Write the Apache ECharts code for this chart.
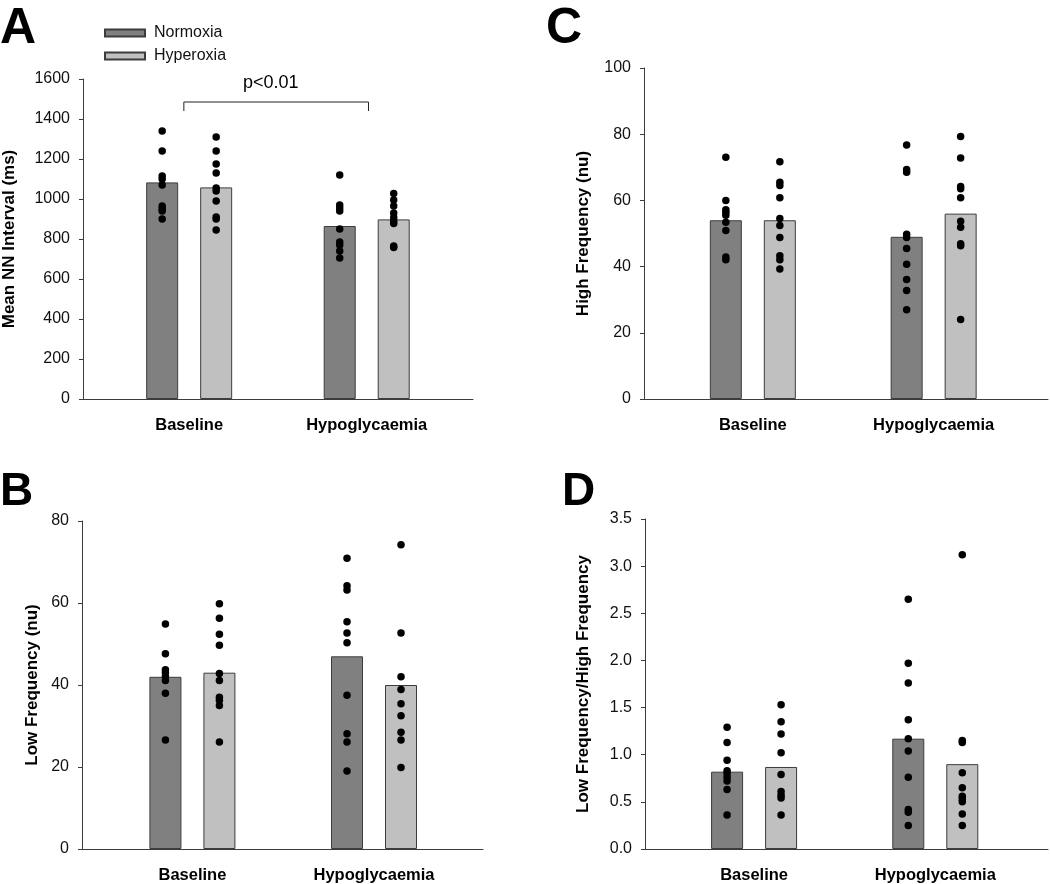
<!DOCTYPE html>
<html>
<head>
<meta charset="utf-8">
<script src="https://cdn.jsdelivr.net/npm/echarts@6/dist/echarts.min.js"></script>
<style>
  html, body { margin: 0; padding: 0; background: #fff; }
  #chart { width: 1050px; height: 884px; }
</style>
</head>
<body>
<div id="chart"></div>
<script>
// ---------------- DATA ----------------
const categories = ['Baseline', 'Hypoglycaemia'];
const seriesNames = ['Normoxia', 'Hyperoxia'];

// Panel A: Mean NN Interval (ms)
const nnNormMean = [1083, 865];
const nnHyperMean = [1058, 898];
const nnNormBase = [1340, 1240, 1115, 1100, 1070, 965, 950, 940, 900];
const nnNormHypo = [1120, 970, 955, 940, 850, 785, 770, 740, 705];
const nnHyperBase = [1310, 1240, 1175, 1130, 1055, 1040, 990, 910, 900, 845];
const nnHyperHypo = [1028, 995, 965, 930, 908, 890, 878, 765, 758];

// Panel B: Low Frequency (nu)
const lfNormMean = [42, 47];
const lfHyperMean = [43, 40];
const lfNormBase = [54.9, 47.6, 43.7, 43.0, 42.0, 41.1, 38.0, 26.6];
const lfNormHypo = [70.9, 64.2, 63.2, 55.4, 52.7, 50.3, 37.5, 28.1, 26.1, 19.0];
const lfHyperBase = [59.8, 56.3, 52.4, 49.7, 42.8, 41.1, 37.0, 36.3, 35.0, 26.1];
const lfHyperHypo = [74.2, 52.7, 42.0, 38.9, 35.4, 32.5, 28.5, 26.6, 19.9];

// Panel C: High Frequency (nu)
const hfNormMean = [54, 49];
const hfHyperMean = [54, 56];
const hfNormBase = [73.0, 60.0, 57.2, 56.4, 55.5, 53.4, 50.9, 42.9, 42.1];
const hfNormHypo = [76.7, 69.3, 68.5, 49.8, 48.8, 45.5, 40.7, 36.1, 32.8, 27.0];
const hfHyperBase = [71.7, 65.5, 64.5, 60.8, 54.5, 52.4, 48.8, 43.3, 42.1, 39.3];
const hfHyperHypo = [79.3, 72.8, 64.2, 63.5, 60.8, 53.7, 51.9, 46.9, 46.3, 24.0];

// Panel D: LF/HF ratio
const ratioNormMean = [0.82, 1.17];
const ratioHyperMean = [0.87, 0.90];
const ratioNormBase = [1.29, 1.13, 0.94, 0.83, 0.80, 0.76, 0.72, 0.63, 0.36];
const ratioNormHypo = [2.65, 1.97, 1.76, 1.37, 1.17, 1.04, 0.76, 0.42, 0.39, 0.25];
const ratioHyperBase = [1.53, 1.35, 1.22, 1.02, 0.79, 0.61, 0.57, 0.54, 0.36];
const ratioHyperHypo = [3.12, 1.15, 1.13, 0.81, 0.65, 0.56, 0.53, 0.50, 0.37, 0.25];

// Significance annotation on panel A (data coordinates)
const sigBracketX = [0.97, 0.97, 2.01, 2.01];
const sigBracketY = [1440, 1485, 1485, 1440];
const sigLabel = 'p<0.01';
const sigLabelAt = [1.46, 1580];

// ---------------- LAYOUT / STYLE ----------------
const FONT = 'Liberation Sans, Arial, sans-serif';
const AXIS_COLOR = '#3c3c3c';
const DARK = '#808080';
const LIGHT = '#c0c0c0';
const BAR_W = 32;
const GAP = 22;
const DOT_OFF = (BAR_W + GAP) / 2;

const panels = [
  { letter: 'A', left: 82, top: 79, width: 391, height: 320, xmin: 0.402, spacing: 178,
    ymax: 1600, interval: 200, name: 'Mean NN Interval (ms)', nameGap: 65, dec: 0,
    nm: nnNormMean, hm: nnHyperMean, nb: nnNormBase, nh: nnNormHypo, hb: nnHyperBase, hh: nnHyperHypo },
  { letter: 'C', left: 644, top: 68, width: 404, height: 331, xmin: 0.398, spacing: 180.8,
    ymax: 100, interval: 20, name: 'High Frequency (nu)', nameGap: 52, dec: 0,
    nm: hfNormMean, hm: hfHyperMean, nb: hfNormBase, nh: hfNormHypo, hb: hfHyperBase, hh: hfHyperHypo },
  { letter: 'B', left: 82, top: 521, width: 401, height: 328, xmin: 0.392, spacing: 181.6,
    ymax: 80, interval: 20, name: 'Low Frequency (nu)', nameGap: 41, dec: 0,
    nm: lfNormMean, hm: lfHyperMean, nb: lfNormBase, nh: lfNormHypo, hb: lfHyperBase, hh: lfHyperHypo },
  { letter: 'D', left: 645, top: 519, width: 403, height: 331, xmin: 0.398, spacing: 181.2,
    ymax: 3.5, interval: 0.5, name: 'Low Frequency/High Frequency', nameGap: 53, dec: 1,
    nm: ratioNormMean, hm: ratioHyperMean, nb: ratioNormBase, nh: ratioNormHypo, hb: ratioHyperBase, hh: ratioHyperHypo }
];

const grid = [], xAxis = [], yAxis = [], series = [];

function pts(base, hypo) {
  return base.map(v => [1, v]).concat(hypo.map(v => [2, v]));
}

panels.forEach((p, i) => {
  grid.push({ left: p.left, top: p.top, width: p.width, height: p.height });
  xAxis.push({
    type: 'value', gridIndex: i, min: p.xmin, max: p.xmin + p.width / p.spacing,
    axisLine: { show: true, lineStyle: { color: AXIS_COLOR, width: 1 } },
    axisTick: { show: false },
    splitLine: { show: false },
    axisLabel: {
      customValues: [1, 2],
      formatter: v => categories[Math.round(v) - 1],
      fontFamily: FONT, fontSize: 16.5, fontWeight: 'bold', color: '#000', margin: 18
    }
  });
  yAxis.push({
    type: 'value', gridIndex: i, min: 0, max: p.ymax, interval: p.interval,
    name: p.name, nameLocation: 'middle', nameGap: p.nameGap,
    nameTextStyle: { fontFamily: FONT, fontSize: 17, fontWeight: 'bold', color: '#000' },
    axisLine: { show: true, lineStyle: { color: AXIS_COLOR, width: 1 } },
    axisTick: { show: true, inside: false, length: 4, lineStyle: { color: AXIS_COLOR } },
    splitLine: { show: false },
    axisLabel: {
      fontFamily: FONT, fontSize: 16, color: '#111', margin: 13,
      formatter: v => Number(v).toFixed(p.dec)
    }
  });
  series.push({
    name: seriesNames[0], type: 'bar', xAxisIndex: i, yAxisIndex: i,
    data: p.nm.map((v, k) => [k + 1, v]),
    barWidth: BAR_W, barGap: (GAP / BAR_W * 100) + '%',
    itemStyle: { color: DARK, borderColor: AXIS_COLOR, borderWidth: 1 },
    animation: false, z: 2
  });
  series.push({
    name: seriesNames[1], type: 'bar', xAxisIndex: i, yAxisIndex: i,
    data: p.hm.map((v, k) => [k + 1, v]),
    barWidth: BAR_W,
    itemStyle: { color: LIGHT, borderColor: AXIS_COLOR, borderWidth: 1 },
    animation: false, z: 2
  });
  series.push({
    name: seriesNames[0] + ' points', type: 'scatter', xAxisIndex: i, yAxisIndex: i,
    data: pts(p.nb, p.nh), symbol: 'circle', symbolSize: 7.5,
    symbolOffset: [-DOT_OFF, 0],
    itemStyle: { color: '#000', opacity: 1 }, animation: false, z: 5, silent: true
  });
  series.push({
    name: seriesNames[1] + ' points', type: 'scatter', xAxisIndex: i, yAxisIndex: i,
    data: pts(p.hb, p.hh), symbol: 'circle', symbolSize: 7.5,
    symbolOffset: [DOT_OFF, 0],
    itemStyle: { color: '#000', opacity: 1 }, animation: false, z: 5, silent: true
  });
});

// significance bracket on panel A
series.push({
  name: 'sig', type: 'line', xAxisIndex: 0, yAxisIndex: 0,
  data: sigBracketX.map((x, k) => [x, sigBracketY[k]]),
  symbol: 'none', lineStyle: { color: '#222', width: 1 }, animation: false, silent: true
});
series.push({
  name: 'sigLabel', type: 'scatter', xAxisIndex: 0, yAxisIndex: 0,
  data: [sigLabelAt], symbolSize: 0,
  itemStyle: { opacity: 1 },
  label: { show: true, position: 'inside', formatter: sigLabel,
           fontFamily: FONT, fontSize: 18, color: '#000', opacity: 1 },
  animation: false, silent: true
});

const graphic = panels.map(p => ({
  type: 'text',
  left: p.letter === 'A' || p.letter === 'B' ? 0 : (p.letter === 'C' ? 546 : 562),
  top: p.letter === 'A' || p.letter === 'C' ? 4 : 469,
  style: {
    text: p.letter,
    font: 'bold ' + (p.letter === 'A' || p.letter === 'C' ? 50 : 46) + 'px ' + FONT,
    fill: '#000'
  }
}));

const chart = echarts.init(document.getElementById('chart'), null, { renderer: 'canvas' });
chart.setOption({
  backgroundColor: '#fff',
  animation: false,
  grid, xAxis, yAxis, series, graphic,
  legend: {
    data: seriesNames, orient: 'vertical', left: 104, top: 25, padding: 0,
    itemWidth: 40, itemHeight: 7, itemGap: 7, icon: 'rect',
    textStyle: { fontFamily: FONT, fontSize: 16, color: '#111', padding: [0, 0, 0, 4] },
    selectedMode: false
  }
});
</script>
</body>
</html>
